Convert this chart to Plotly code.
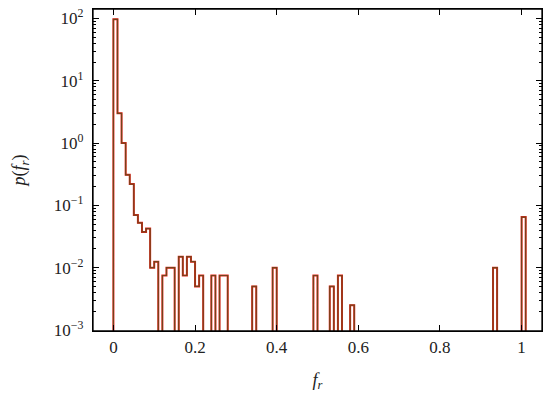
import plotly.graph_objects as go

# Histogram data (bin width 0.01); only non-empty bins listed
bin_width = 0.01
bin_left = [0.00, 0.01, 0.02, 0.03, 0.04, 0.05, 0.06, 0.07, 0.08, 0.09, 0.10,
            0.12, 0.13, 0.14, 0.16, 0.17, 0.18, 0.19, 0.20, 0.21,
            0.24, 0.26, 0.27, 0.34, 0.39, 0.49, 0.53, 0.55, 0.58, 0.93, 1.00]
density = [97, 3.0, 1.0, 0.31, 0.22, 0.07, 0.0525, 0.0375, 0.0425, 0.01, 0.0125,
           0.0075, 0.01, 0.01, 0.015, 0.0075, 0.015, 0.0125, 0.005, 0.0075,
           0.0075, 0.0075, 0.0075, 0.005, 0.01, 0.0075, 0.005, 0.0075, 0.0025, 0.01, 0.065]

x_ticks = [0, 0.2, 0.4, 0.6, 0.8, 1]
x_ticktext = ["0", "0.2", "0.4", "0.6", "0.8", "1"]
y_ticks = [1e-3, 1e-2, 1e-1, 1e0, 1e1, 1e2]
y_ticktext = ["10<sup>−3</sup>", "10<sup>−2</sup>", "10<sup>−1</sup>",
              "10<sup>0</sup>", "10<sup>1</sup>", "10<sup>2</sup>"]

floor = 1e-5  # empty bins drop below the axis
nbins = int(round(bin_left[-1] / bin_width)) + 1
lookup = {int(round(b / bin_width)): d for b, d in zip(bin_left, density)}
xs = [0.0]
ys = [floor]
for i in range(nbins):
    xs.append(round(i * bin_width, 4))
    ys.append(lookup.get(i, floor))
xs.append(round(nbins * bin_width, 4))
ys.append(floor)

fig = go.Figure()
fig.add_trace(go.Scatter(x=xs, y=ys, mode="lines", line=dict(shape="hv", color="#e8241c", width=2.0),
                         hoverinfo="skip", showlegend=False))
fig.add_trace(go.Scatter(x=xs, y=ys, mode="lines", line=dict(shape="hv", color="#74431a", width=1.2),
                         showlegend=False))
# invisible copy to anchor the mirrored (top/right) tick axes
fig.add_trace(go.Scatter(x=xs, y=ys, mode="lines", xaxis="x2", yaxis="y2", opacity=0,
                         line=dict(width=0), hoverinfo="skip", showlegend=False))

minor_y = [m * 10 ** e for e in range(-3, 2) for m in range(2, 10)]
x_range = [-0.05, 1.05]
y_range = [-3.016, 2.152]

serif = "Liberation Serif"
tickfont = dict(family=serif, size=17, color="#222")
common_x = dict(range=x_range, tickmode="array", tickvals=x_ticks, ticks="inside", ticklen=6,
                tickwidth=1.2, tickcolor="black", showline=True, linecolor="black", linewidth=1.3,
                showgrid=False, zeroline=False, automargin=False, fixedrange=True)
common_y = dict(type="log", range=y_range, tickmode="array", tickvals=y_ticks, ticks="inside",
                ticklen=6, tickwidth=1.2, tickcolor="black", showline=True, linecolor="black",
                linewidth=1.3, showgrid=False, zeroline=False, automargin=False, fixedrange=True,
                minor=dict(tickmode="array", tickvals=minor_y, ticks="inside", ticklen=3,
                           tickwidth=1, tickcolor="black", showgrid=False))

fig.update_layout(
    width=550, height=393,
    margin=dict(l=93, r=8, t=9, b=62, autoexpand=False),
    paper_bgcolor="white", plot_bgcolor="white",
    font=dict(family=serif, size=17, color="black"),
    showlegend=False,
    xaxis=dict(**common_x, ticktext=x_ticktext, tickfont=tickfont,
               title=dict(text="<i>f</i><sub><i>r</i></sub>", standoff=17,
                          font=dict(family=serif, size=18, color="#222"))),
    yaxis=dict(**common_y, ticktext=y_ticktext, tickfont=tickfont, ticklabelstandoff=5,
               ticklabeloverflow="allow",
               title=dict(text="<i>p</i>(<i>f</i><sub><i>r</i></sub>)", standoff=23,
                          font=dict(family=serif, size=18, color="#222"))),
    xaxis2=dict(**common_x, overlaying="x", side="top", anchor="y", showticklabels=False),
    yaxis2=dict(**common_y, overlaying="y", side="right", anchor="x", showticklabels=False),
    shapes=[dict(type="rect", xref="paper", yref="paper", x0=0, y0=0, x1=1, y1=1,
                 line=dict(color="black", width=1.3), fillcolor="rgba(0,0,0,0)", layer="above")],
)

fig.write_html("out.html", config={"displayModeBar": False},
               post_script="document.body.style.margin='0';")
